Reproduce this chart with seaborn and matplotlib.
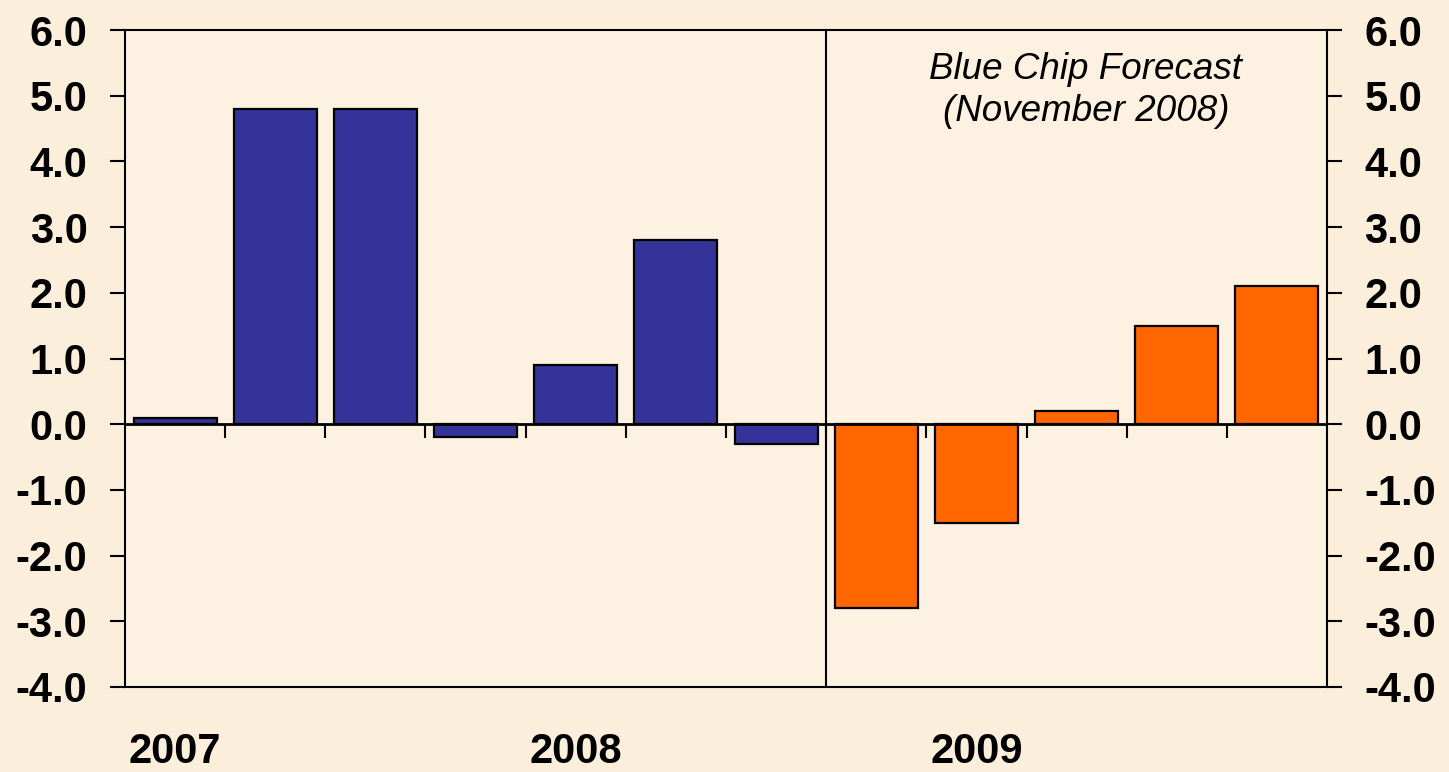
import matplotlib
matplotlib.use("Agg")
import matplotlib.pyplot as plt
import matplotlib.transforms as mtransforms
import seaborn as sns
import pandas as pd
import numpy as np

# ---- data ----
quarters = ["2007Q1", "2007Q2", "2007Q3", "2007Q4",
            "2008Q1", "2008Q2", "2008Q3", "2008Q4",
            "2009Q1", "2009Q2", "2009Q3", "2009Q4"]
values = [0.1, 4.8, 4.8, -0.2, 0.9, 2.8, -0.3, -2.8, -1.5, 0.2, 1.5, 2.1]
kind = ["Actual"] * 7 + ["Forecast"] * 5
year_labels = ["2007", "2008", "2009"]
year_label_quarters = ["2007Q1", "2008Q1", "2009Q1"]
y_ticks = [-4.0, -3.0, -2.0, -1.0, 0.0, 1.0, 2.0, 3.0, 4.0, 5.0, 6.0]
annotation = "Blue Chip Forecast\n(November 2008)"
colors = {"Actual": "#333399", "Forecast": "#FF6600"}

df = pd.DataFrame({"quarter": quarters, "value": values, "kind": kind})

sns.set_style("white")
plt.rcParams["font.family"] = ["Liberation Sans", "DejaVu Sans"]
plt.rcParams["axes.unicode_minus"] = False
plt.rcParams["text.color"] = "black"
plt.rcParams["xtick.color"] = "black"
plt.rcParams["ytick.color"] = "black"
plt.rcParams["ytick.labelcolor"] = "black"

fig = plt.figure(figsize=(14.49, 7.72), dpi=100, facecolor="#FBEEDA")
ax = fig.add_axes([125 / 1449, 1 - 687 / 772, (1327 - 125) / 1449, (687 - 30) / 772])
ax.set_facecolor("#FDF2E1")

sns.barplot(data=df, x="quarter", y="value", hue="kind", palette=colors,
            dodge=False, width=0.83, edgecolor="black", linewidth=1.6,
            saturation=1, order=quarters, ax=ax, legend=False, zorder=3)

ax.set_xlim(-0.5, len(quarters) - 0.5)
ax.set_ylim(-4.0, 6.0)
ax.set_yticks(y_ticks)
ax.set_yticklabels([f"{t:.1f}" for t in y_ticks])
ax.set_xlabel("")
ax.set_ylabel("")
ax.set_xticks([])

for s in ax.spines.values():
    s.set_visible(True)
    s.set_color("black")
    s.set_linewidth(1.5)

ax.tick_params(axis="y", which="both", direction="out", length=11, width=1.5,
               color="black", labelcolor="black", left=True, right=True,
               labelleft=True, labelright=True, labelsize=30, pad=16)
for lab in ax.get_yticklabels():
    lab.set_fontweight("bold")
    lab.set_color("black")

# zero line
ax.axhline(0, color="black", linewidth=2.0, zorder=4)
# category boundary ticks on zero line
bounds = np.arange(0.5, len(quarters) - 1, 1.0)
ax.vlines(bounds, -0.21, 0, color="black", linewidth=1.5, zorder=4)
# divider between history and forecast
ax.axvline(6.5, color="black", linewidth=1.5, zorder=4)

# year labels
trans = mtransforms.blended_transform_factory(ax.transData, fig.transFigure)
for lab, q in zip(year_labels, year_label_quarters):
    ax.text(quarters.index(q), 1 - 752 / 772, lab, transform=trans, color="black",
            ha="center", va="center", fontsize=30, fontweight="bold", clip_on=False)

ax.text(0.7995, 0.908, annotation, transform=ax.transAxes, ha="center", va="center",
        fontsize=26.5, fontstyle="italic", linespacing=1.25, color="black", zorder=5)

fig.savefig("out.png", dpi=100, facecolor=fig.get_facecolor())
